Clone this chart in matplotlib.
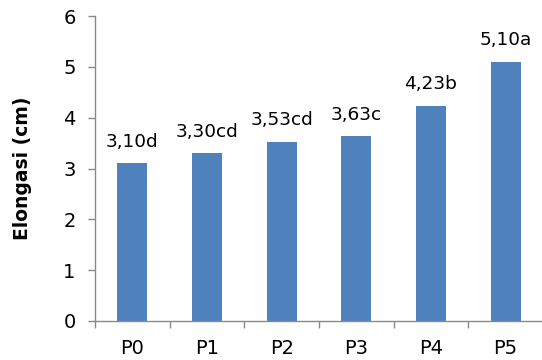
import matplotlib
matplotlib.use("Agg")
import matplotlib.pyplot as plt
from matplotlib.ticker import FixedLocator

categories = ["P0", "P1", "P2", "P3", "P4", "P5"]
values = [3.10, 3.30, 3.53, 3.63, 4.23, 5.10]
letters = ["d", "cd", "cd", "c", "b", "a"]
y_ticks = [0, 1, 2, 3, 4, 5, 6]

bar_color = "#4F81BD"
axis_color = "#898989"

fig = plt.figure(figsize=(5.42, 3.60), dpi=100)
ax = fig.add_axes([95 / 542, 39 / 360, 448 / 542, 305 / 360])

x = list(range(len(categories)))
ax.bar(x, values, width=0.4, color=bar_color, zorder=2)

for xi, v, lt in zip(x, values, letters):
    label = f"{v:.2f}".replace(".", ",") + lt
    ax.annotate(label, (xi, v), xytext=(0, 9), textcoords="offset points",
                ha="center", va="bottom", fontsize=13.3, color="black")

ax.set_xlim(-0.5, len(categories) - 0.5)
ax.set_ylim(0, 6)
ax.set_yticks(y_ticks)
ax.set_yticklabels([str(t) for t in y_ticks])
ax.set_xticks(x)
ax.set_xticklabels(categories)
ax.xaxis.set_minor_locator(FixedLocator([i - 0.5 for i in range(len(categories) + 1)]))

for side in ("top", "right"):
    ax.spines[side].set_visible(False)
for side in ("left", "bottom"):
    ax.spines[side].set_color(axis_color)
    ax.spines[side].set_linewidth(1.0)

ax.tick_params(axis="y", which="major", length=5, width=1.0, color=axis_color,
               pad=9, labelsize=14)
ax.tick_params(axis="x", which="major", length=0, pad=13, labelsize=14)
ax.tick_params(axis="x", which="minor", length=5, width=1.0, color=axis_color,
               direction="out")

ax.set_ylabel("Elongasi (cm)", fontsize=13.5, fontweight="bold")
ax.yaxis.set_label_coords(-0.141, 0.5)

fig.savefig("out.png", dpi=100)
